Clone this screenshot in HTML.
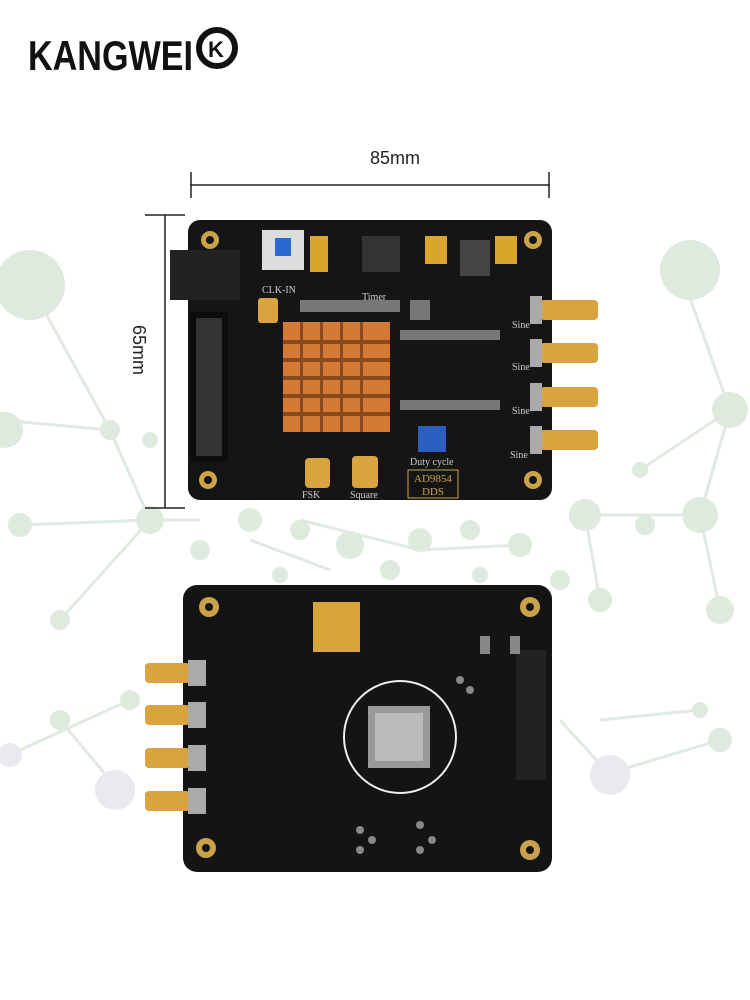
<!DOCTYPE html>
<html><head><meta charset="utf-8"><style>
html,body{margin:0;padding:0;background:#fff;}
body{width:750px;height:1000px;position:relative;overflow:hidden;font-family:"Liberation Sans",sans-serif;}
</style></head><body>
<svg width="750" height="1000" viewBox="0 0 750 1000" style="position:absolute;left:0;top:0">
<g opacity="0.75">
<g stroke="#d6e3d6" stroke-width="3" fill="none">
<line x1="30" y1="285" x2="110" y2="430"/><line x1="0" y1="420" x2="110" y2="430"/><line x1="110" y1="430" x2="150" y2="520"/>
<line x1="20" y1="525" x2="150" y2="520"/><line x1="150" y1="520" x2="200" y2="520"/><line x1="60" y1="620" x2="150" y2="520"/>
<line x1="680" y1="270" x2="730" y2="410"/><line x1="730" y1="410" x2="700" y2="515"/><line x1="700" y1="515" x2="585" y2="515"/>
<line x1="730" y1="410" x2="640" y2="470"/><line x1="700" y1="515" x2="720" y2="610"/><line x1="585" y1="515" x2="600" y2="600"/>
<line x1="300" y1="520" x2="420" y2="550"/><line x1="420" y1="550" x2="520" y2="545"/><line x1="250" y1="540" x2="330" y2="570"/>
<line x1="20" y1="750" x2="130" y2="700"/><line x1="110" y1="780" x2="60" y2="720"/><line x1="600" y1="720" x2="700" y2="710"/>
<line x1="620" y1="770" x2="720" y2="740"/><line x1="560" y1="720" x2="610" y2="775"/>
</g>
<g fill="#d3e3d3">
<circle cx="30" cy="285" r="35"/><circle cx="110" cy="430" r="10"/><circle cx="150" cy="440" r="8"/><circle cx="20" cy="525" r="12"/>
<circle cx="150" cy="520" r="14"/><circle cx="60" cy="620" r="10"/><circle cx="5" cy="430" r="18"/>
<circle cx="690" cy="270" r="30"/><circle cx="730" cy="410" r="18"/><circle cx="700" cy="515" r="18"/><circle cx="585" cy="515" r="16"/>
<circle cx="640" cy="470" r="8"/><circle cx="720" cy="610" r="14"/><circle cx="600" cy="600" r="12"/><circle cx="645" cy="525" r="10"/>
<circle cx="250" cy="520" r="12"/><circle cx="300" cy="530" r="10"/><circle cx="350" cy="545" r="14"/><circle cx="420" cy="540" r="12"/>
<circle cx="470" cy="530" r="10"/><circle cx="520" cy="545" r="12"/><circle cx="200" cy="550" r="10"/><circle cx="390" cy="570" r="10"/>
<circle cx="280" cy="575" r="8"/><circle cx="480" cy="575" r="8"/><circle cx="560" cy="580" r="10"/>
<circle cx="60" cy="720" r="10"/><circle cx="130" cy="700" r="10"/><circle cx="700" cy="710" r="8"/><circle cx="720" cy="740" r="12"/>
</g>
<g fill="#e2e2ea"><circle cx="115" cy="790" r="20"/><circle cx="610" cy="775" r="20"/><circle cx="10" cy="755" r="12"/></g>
</g>

<text x="28" y="70" font-family="Liberation Sans" font-weight="bold" font-size="42" fill="#111" textLength="165" lengthAdjust="spacingAndGlyphs">KANGWEI</text>
<circle cx="217" cy="48" r="18" fill="none" stroke="#111" stroke-width="6"/>
<text x="208" y="57" font-weight="bold" font-size="22" fill="#111">K</text>

<text x="395" y="164" font-size="18" fill="#222" text-anchor="middle">85mm</text>
<line x1="190" y1="185" x2="550" y2="185" stroke="#222" stroke-width="1.5"/>
<line x1="191" y1="172" x2="191" y2="198" stroke="#222" stroke-width="1.5"/>
<line x1="549" y1="172" x2="549" y2="198" stroke="#222" stroke-width="1.5"/>
<line x1="165" y1="215" x2="165" y2="508" stroke="#222" stroke-width="1.5"/>
<line x1="145" y1="215" x2="185" y2="215" stroke="#222" stroke-width="1.5"/>
<line x1="145" y1="508" x2="185" y2="508" stroke="#222" stroke-width="1.5"/>
<text x="0" y="0" font-size="18" fill="#222" text-anchor="middle" transform="translate(133,350) rotate(90)">65mm</text>

<rect x="188" y="220" width="364" height="280" rx="12" fill="#151515"/>
<rect x="170" y="250" width="70" height="50" fill="#222"/>
<rect x="190" y="312" width="38" height="150" fill="#0d0d0d"/>
<rect x="196" y="318" width="26" height="138" fill="#333"/>
<g fill="#c9a24a"><circle cx="210" cy="240" r="9"/><circle cx="533" cy="240" r="9"/><circle cx="208" cy="480" r="9"/><circle cx="533" cy="480" r="9"/></g>
<g fill="#151515"><circle cx="210" cy="240" r="4"/><circle cx="533" cy="240" r="4"/><circle cx="208" cy="480" r="4"/><circle cx="533" cy="480" r="4"/></g>
<rect x="262" y="230" width="42" height="40" fill="#ddd"/><rect x="275" y="238" width="16" height="18" fill="#2a6ad0"/>
<rect x="310" y="236" width="18" height="36" fill="#d9a52c"/><rect x="425" y="236" width="22" height="28" fill="#d9a52c"/><rect x="495" y="236" width="22" height="28" fill="#d9a52c"/>
<rect x="362" y="236" width="38" height="36" fill="#333"/><rect x="460" y="240" width="30" height="36" fill="#444"/>
<rect x="283" y="322" width="107" height="110" fill="#d47a35"/>
<g fill="#8a4a1e"><rect x="283" y="340" width="107" height="4"/><rect x="283" y="358" width="107" height="4"/><rect x="283" y="376" width="107" height="4"/><rect x="283" y="394" width="107" height="4"/><rect x="283" y="412" width="107" height="4"/>
<rect x="300" y="322" width="3" height="110"/><rect x="320" y="322" width="3" height="110"/><rect x="340" y="322" width="3" height="110"/><rect x="360" y="322" width="3" height="110"/></g>
<g fill="#d9a440">
<rect x="540" y="300" width="58" height="20" rx="4"/><rect x="540" y="343" width="58" height="20" rx="4"/><rect x="540" y="387" width="58" height="20" rx="4"/><rect x="540" y="430" width="58" height="20" rx="4"/>
<rect x="305" y="458" width="25" height="30" rx="4"/><rect x="352" y="456" width="26" height="32" rx="4"/><rect x="258" y="298" width="20" height="25" rx="3"/>
</g>
<g fill="#aaa"><rect x="530" y="296" width="12" height="28"/><rect x="530" y="339" width="12" height="28"/><rect x="530" y="383" width="12" height="28"/><rect x="530" y="426" width="12" height="28"/></g>
<g fill="#ccc" font-family="Liberation Serif" font-size="10"><text x="512" y="328">Sine</text><text x="512" y="370">Sine</text><text x="512" y="414">Sine</text><text x="510" y="458">Sine</text>
<text x="302" y="498">FSK</text><text x="350" y="498">Square</text><text x="410" y="465">Duty cycle</text><text x="262" y="293">CLK-IN</text><text x="362" y="300">Timer</text></g>
<rect x="408" y="470" width="50" height="28" fill="none" stroke="#c9a24a"/>
<text x="433" y="482" font-family="Liberation Serif" font-size="11" fill="#c9a24a" text-anchor="middle">AD9854</text>
<text x="433" y="495" font-family="Liberation Serif" font-size="11" fill="#c9a24a" text-anchor="middle">DDS</text>
<rect x="418" y="426" width="28" height="26" fill="#2a5ec0"/>
<g fill="#777"><rect x="400" y="330" width="100" height="10"/><rect x="400" y="400" width="100" height="10"/><rect x="300" y="300" width="100" height="12"/><rect x="410" y="300" width="20" height="20"/></g>

<rect x="183" y="585" width="369" height="287" rx="14" fill="#141414"/>
<g fill="#c9a24a"><circle cx="209" cy="607" r="10"/><circle cx="530" cy="607" r="10"/><circle cx="206" cy="848" r="10"/><circle cx="530" cy="850" r="10"/></g>
<g fill="#141414"><circle cx="209" cy="607" r="4"/><circle cx="530" cy="607" r="4"/><circle cx="206" cy="848" r="4"/><circle cx="530" cy="850" r="4"/></g>
<g fill="#d9a440"><rect x="145" y="663" width="45" height="20" rx="4"/><rect x="145" y="705" width="45" height="20" rx="4"/><rect x="145" y="748" width="45" height="20" rx="4"/><rect x="145" y="791" width="45" height="20" rx="4"/></g>
<g fill="#aaa"><rect x="188" y="660" width="18" height="26"/><rect x="188" y="702" width="18" height="26"/><rect x="188" y="745" width="18" height="26"/><rect x="188" y="788" width="18" height="26"/></g>
<rect x="313" y="602" width="47" height="50" fill="#d9a53a"/>
<circle cx="400" cy="737" r="56" fill="none" stroke="#eee" stroke-width="2"/>
<rect x="368" y="706" width="62" height="62" fill="#999"/><rect x="375" y="713" width="48" height="48" fill="#bbb"/>
<rect x="516" y="650" width="30" height="130" fill="#222"/>
<g fill="#888"><circle cx="360" cy="830" r="4"/><circle cx="372" cy="840" r="4"/><circle cx="360" cy="850" r="4"/><circle cx="420" cy="825" r="4"/><circle cx="432" cy="840" r="4"/><circle cx="420" cy="850" r="4"/>
<rect x="480" y="636" width="10" height="18"/><rect x="510" y="636" width="10" height="18"/><circle cx="460" cy="680" r="4"/><circle cx="470" cy="690" r="4"/></g>
</svg>
</body></html>
